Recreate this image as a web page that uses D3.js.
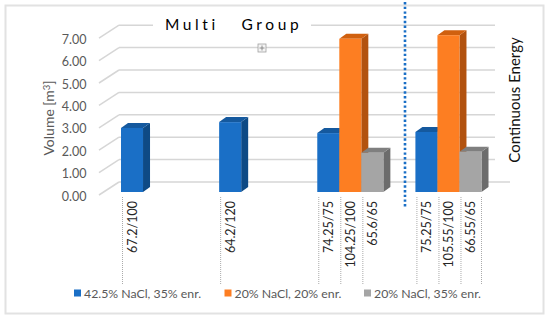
<!DOCTYPE html>
<html>
<head>
<meta charset="utf-8" />
<title>Multi Group / Continuous Energy</title>
<script src="https://d3js.org/d3.v7.min.js"></script>
<style>
  html, body { margin: 0; padding: 0; background: #fff; }
  svg { display: block; }
  text { font-family: Lato, "Open Sans", sans-serif; }
</style>
</head>
<body>
<svg width="550" height="320"></svg>
<script>
var groups = ["g1", "g2", "g3", "g4"];
var seriesNames = ["42.5% NaCl, 35% enr.", "20% NaCl, 20% enr.", "20% NaCl, 35% enr."];
var blueValues = [2.86, 3.12, 2.63, 2.68];
var orangeValues = [null, null, 6.84, 7.0];
var grayValues = [null, null, 1.75, 1.8];
var blueLabels = ["67.2/100", "64.2/120", "74.25/75", "75.25/75"];
var orangeLabels = [null, null, "104.25/100", "105.55/100"];
var grayLabels = [null, null, "65.6/65", "66.55/65"];
var yTicks = [0, 1, 2, 3, 4, 5, 6, 7];

var faces = [
  { front: "#1a6fc6", top: "#15599e", side: "#0e4a85" },
  { front: "#fd7e22", top: "#d0600f", side: "#b2520f" },
  { front: "#a5a5a5", top: "#7f7f7f", side: "#6c6c6c" }
];
var allValues = [blueValues, orangeValues, grayValues];
var allLabels = [blueLabels, orangeLabels, grayLabels];

var svg = d3.select("svg");

// outer frame
svg.append("rect").attr("x", 5.5).attr("y", 5.5).attr("width", 538).attr("height", 308)
  .attr("fill", "#fff").attr("stroke", "#e2e2e2").attr("stroke-width", 2);

var x0 = d3.scaleBand().domain(groups).range([121, 481.5]).paddingInner(32 / 98);
var x1 = d3.scaleBand().domain(seriesNames).range([0, x0.bandwidth()]);
var y = d3.scaleLinear().domain([0, 7]).range([196, 39.2]);

// floor / wall offsets of the fake 3d box
var wallDx = 20, wallDy = -14;
var barDx = 7, barDy = -5, barLift = -4;

var grid = svg.append("g").attr("fill", "none").attr("stroke", "#d6d6d6").attr("stroke-width", 1.5);
yTicks.forEach(function (t) {
  var yy = y(t);
  var right = t === 0 ? 510 : 495;
  grid.append("line").attr("x1", 99).attr("y1", yy - 1).attr("x2", 99 + wallDx).attr("y2", yy + wallDy);
  if (t === 7) {
    // title sits on the top gridline
    grid.append("line").attr("x1", 119).attr("x2", 153).attr("y1", yy + wallDy).attr("y2", yy + wallDy);
    grid.append("line").attr("x1", 311).attr("x2", right).attr("y1", yy + wallDy).attr("y2", yy + wallDy);
  } else {
    grid.append("line").attr("x1", 119).attr("x2", right).attr("y1", yy + wallDy).attr("y2", yy + wallDy);
  }
});

// y axis labels
var yAxis = d3.axisLeft(y).tickValues(yTicks).tickFormat(d3.format(".2f")).tickSize(0).tickPadding(0);
var yG = svg.append("g").attr("transform", "translate(86.5,0)").call(yAxis);
yG.select(".domain").remove();
yG.selectAll("text").attr("fill", "#595959").style("font-size", "12.5px").style("font-family", "Lato, sans-serif");

svg.append("text").attr("transform", "translate(54,118) rotate(-90)")
  .attr("text-anchor", "middle").attr("fill", "#595959").style("font-size", "14px")
  .html('Volume [m<tspan dy="-4" font-size="9.5">3</tspan><tspan dy="4">]</tspan>');

// dotted category lines and labels
var catG = svg.append("g");
seriesNames.forEach(function (name, s) {
  groups.forEach(function (g, i) {
    var lab = allLabels[s][i];
    if (lab === null) return;
    var left = x0(g) + x1(name);
    catG.append("line").attr("x1", left + 1.5).attr("x2", left + 1.5).attr("y1", 197).attr("y2", 285)
      .attr("stroke", "#a0a0a0").attr("stroke-width", 0.9).attr("stroke-dasharray", "1,1");
    catG.append("text").attr("transform", "translate(" + (left + x1.bandwidth() / 2 + 5) + ",201) rotate(-90)")
      .attr("text-anchor", "end").attr("fill", "#262626").style("font-size", "12.5px").text(lab);
  });
});
// closing dotted line of the last group
catG.append("line").attr("x1", x0("g4") + x0.bandwidth()).attr("x2", x0("g4") + x0.bandwidth())
  .attr("y1", 197).attr("y2", 285).attr("stroke", "#a0a0a0").attr("stroke-width", 0.9).attr("stroke-dasharray", "1,1");

// bars
var barsG = svg.append("g");
groups.forEach(function (g, i) {
  seriesNames.forEach(function (name, s) {
    var v = allValues[s][i];
    if (v === null) return;
    var l = x0(g) + x1(name), r = l + x1.bandwidth();
    var t = y(v) + barLift, b = y(0) + barLift;
    barsG.append("polygon").attr("fill", faces[s].side)
      .attr("points", [[r, t], [r + barDx, t + barDy], [r + barDx, b + barDy], [r, b]].join(" "));
    barsG.append("polygon").attr("fill", faces[s].top)
      .attr("points", [[l, t], [l + barDx, t + barDy], [r + barDx, t + barDy], [r, t]].join(" "));
    barsG.append("rect").attr("x", l).attr("y", t).attr("width", r - l).attr("height", b - t)
      .attr("fill", faces[s].front);
  });
});

// title
svg.append("text").attr("x", 165).attr("y", 30).attr("fill", "#000")
  .style("white-space", "pre").style("font-size", "15.5px").style("letter-spacing", "3.6px").text("Multi   Group");

// right side label
svg.append("text").attr("transform", "translate(519.5,100) rotate(-90)")
  .attr("text-anchor", "middle").attr("fill", "#111").style("font-size", "15px").text("Continuous Energy");

// blue dotted separator
svg.append("line").attr("x1", 405).attr("x2", 405).attr("y1", 2).attr("y2", 208)
  .attr("stroke", "#1a6fc6").attr("stroke-width", 2.6).attr("stroke-dasharray", "2.4,2.3");

// little move handle in the plot
var handle = svg.append("g").attr("transform", "translate(262,48)");
handle.append("rect").attr("x", -4).attr("y", -4).attr("width", 8).attr("height", 8)
  .attr("fill", "#f4f4f4").attr("stroke", "#a0a0a0").attr("stroke-width", 0.8);
handle.append("path").attr("d", "M-2.5,0H2.5M0,-2.5V2.5").attr("stroke", "#777").attr("stroke-width", 0.8);

// legend
var legendX = [74, 224.5, 364];
seriesNames.forEach(function (name, s) {
  svg.append("rect").attr("x", legendX[s]).attr("y", 289.5).attr("width", 7).attr("height", 7)
    .attr("fill", faces[s].front);
  svg.append("text").attr("x", legendX[s] + 10).attr("y", 297.5).attr("fill", "#595959")
    .style("font-size", "12.3px").text(name);
});
</script>
</body>
</html>
